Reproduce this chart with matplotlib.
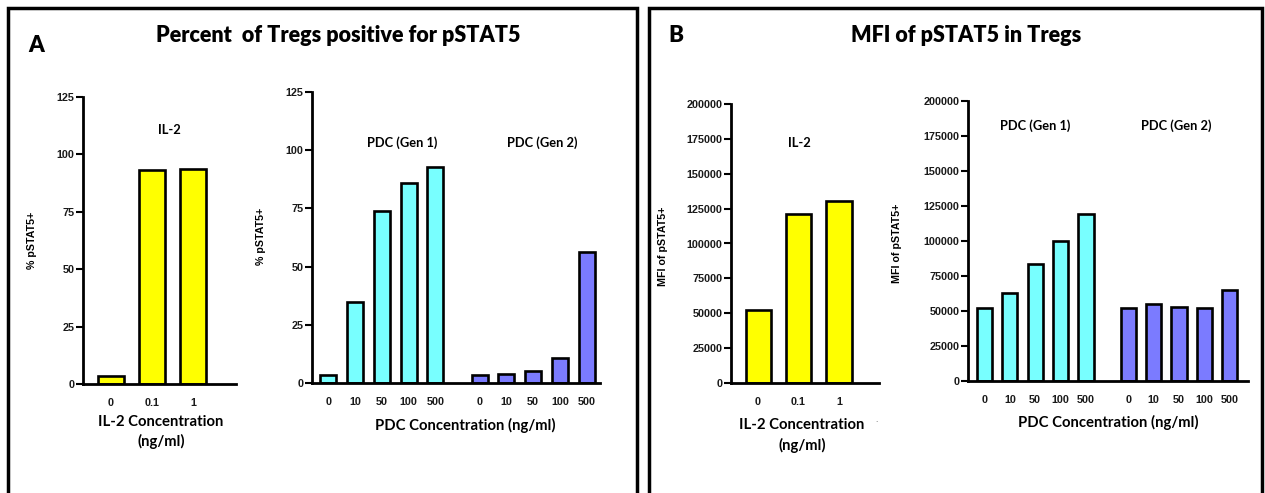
import numpy as np
import matplotlib
matplotlib.use("Agg")
import matplotlib.pyplot as plt
from matplotlib.patches import Rectangle

# data
il2_conc = ["0", "0.1", "1"]
pdc_conc = ["0", "10", "50", "100", "500"]

pct_il2 = [3.5, 93.0, 93.6]
pct_gen1 = [3.4, 34.9, 73.7, 85.8, 92.7]
pct_gen2 = [3.4, 3.7, 5.3, 10.9, 56.4]

mfi_il2 = [52600, 121500, 130600]
mfi_gen1 = [52400, 63100, 83800, 100000, 119300]
mfi_gen2 = [52400, 55000, 52900, 51900, 65000]

YELLOW = "#FFFF00"
CYAN = "#78FFFF"
BLUE = "#7B7BFF"

W, H = 1265, 493
TITLE_FONT = ["Lato", "DejaVu Sans"]
TICK_FONT = ["Liberation Sans", "DejaVu Sans"]


def box(l, t, r, b):
    # axes rect from pixel coords
    return [l / W, 1 - b / H, (r - l) / W, (b - t) / H]


def style(ax, ymax, step):
    for s in ["top", "right"]:
        ax.spines[s].set_visible(False)
    for s in ["left", "bottom"]:
        ax.spines[s].set_linewidth(2)
    ax.set_ylim(0, ymax)
    ax.set_yticks(np.arange(0, ymax + 1, step))
    ax.tick_params(axis="y", length=5, width=1.5, labelsize=7.8, pad=1)
    ax.tick_params(axis="x", length=0, labelsize=7.8, pad=10)
    for lab in ax.get_xticklabels() + ax.get_yticklabels():
        lab.set_family(TICK_FONT)
        lab.set_fontweight("bold")
        lab.set_color("#1a1a1a")


def il2_panel(ax, vals, ymax, step, xl):
    x = np.arange(len(vals))
    ax.bar(x, vals, width=0.62, color=YELLOW, edgecolor="black", linewidth=1.9)
    ax.set_xlim(*xl)
    ax.set_xticks(x)
    ax.set_xticklabels(il2_conc)
    style(ax, ymax, step)


def pdc_panel(ax, g1, g2, ymax, step, off, xl):
    x1 = np.arange(len(g1))
    x2 = np.arange(len(g2)) + off
    ax.bar(x1, g1, width=0.6, color=CYAN, edgecolor="black", linewidth=1.9)
    ax.bar(x2, g2, width=0.6, color=BLUE, edgecolor="black", linewidth=1.9)
    ax.set_xlim(*xl)
    ax.set_xticks(np.concatenate([x1, x2]))
    ax.set_xticklabels(pdc_conc + pdc_conc)
    style(ax, ymax, step)


fig = plt.figure(figsize=(W / 100, H / 100), dpi=100)

def ftext(x, y, s, **kw):
    fig.text(x / W, 1 - y / H, s, ha="center", va="center", **kw)

# panel frames
fig.add_artist(Rectangle((8 / W, -0.05), (637 - 8) / W, 1.05 - 8 / H,
                         transform=fig.transFigure, fill=False, lw=2.5, ec="black"))
fig.add_artist(Rectangle((649 / W, -0.05), (1262 - 649) / W, 1.05 - 8 / H,
                         transform=fig.transFigure, fill=False, lw=2.5, ec="black"))

# A
ax1 = fig.add_axes(box(83, 97, 236, 384))
il2_panel(ax1, pct_il2, 125, 25, (-0.68, 3.05))
ax2 = fig.add_axes(box(312, 92, 600, 383))
pdc_panel(ax2, pct_gen1, pct_gen2, 125, 25, 5.65, (-0.61, 10.15))

# B
ax3 = fig.add_axes(box(731, 104, 879, 383))
il2_panel(ax3, mfi_il2, 200000, 25000, (-0.67, 2.99))
ax4 = fig.add_axes(box(968, 101, 1248, 381))
pdc_panel(ax4, mfi_gen1, mfi_gen2, 200000, 25000, 5.67, (-0.65, 10.39))

# titles
ftext(36, 46, "A", family=TITLE_FONT, fontweight="heavy", fontsize=16)
ftext(338, 35, "Percent  of Tregs positive for pSTAT5", family=TITLE_FONT,
      fontweight="heavy", fontsize=15.5)
ftext(676, 35, "B", family=TITLE_FONT, fontweight="heavy", fontsize=16)
ftext(966, 35, "MFI of pSTAT5 in Tregs", family=TITLE_FONT,
      fontweight="heavy", fontsize=15.5)

# group labels
grp = dict(family=TITLE_FONT, fontweight="bold", fontsize=9.3)
ftext(169, 130, "IL-2", **grp)
ftext(402, 143, "PDC (Gen 1)", **grp)
ftext(542, 143, "PDC (Gen 2)", **grp)
ftext(799, 143, "IL-2", **grp)
ftext(1035, 126, "PDC (Gen 1)", **grp)
ftext(1176, 126, "PDC (Gen 2)", **grp)

# x axis titles
xt = dict(family=TITLE_FONT, fontweight="bold", fontsize=10.7)
ftext(161, 422, "IL-2 Concentration", **xt)
ftext(161, 441, "(ng/ml)", **xt)
ftext(465, 425, "PDC Concentration (ng/ml)", **xt)
ftext(802, 425, "IL-2 Concentration", **xt)
ftext(802, 445, "(ng/ml)", **xt)
ftext(1108, 422, "PDC Concentration (ng/ml)", **xt)
ftext(876, 421, ".", family=TICK_FONT, fontsize=6, color="#555555")

# y axis titles
yt = dict(family=TICK_FONT, fontweight="bold", rotation=90, fontsize=7.7)
ftext(32, 240, "% pSTAT5+", **yt)
ftext(261, 236, "% pSTAT5+", **yt)
ftext(663, 246, "MFI of pSTAT5+", **yt)
ftext(897, 243, "MFI of pSTAT5+", **yt)

fig.savefig("out.png", dpi=100)
